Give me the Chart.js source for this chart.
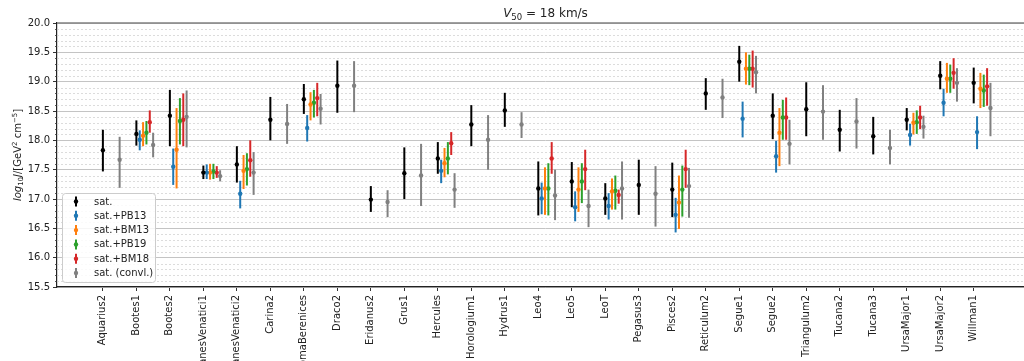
<!DOCTYPE html>
<html>
<head>
<meta charset="utf-8">
<title>J-factors, V50 = 18 km/s</title>
<script src="https://cdn.jsdelivr.net/npm/chart.js@4.4.1/dist/chart.umd.min.js"></script>
<style>
  html, body { margin: 0; padding: 0; background: #fff; overflow: hidden; }
  #wrap { position: relative; width: 1040px; height: 361px; }
</style>
</head>
<body>
<div id="wrap"><canvas id="jChart"></canvas></div>
<script>
// galaxies along the x axis
const galaxies = ['Aquarius2', 'Bootes1', 'Bootes2', 'CanesVenatici1', 'CanesVenatici2', 'Carina2',
    'ComaBerenices', 'Draco2', 'Eridanus2', 'Grus1', 'Hercules', 'Horologium1', 'Hydrus1', 'Leo4',
    'Leo5', 'LeoT', 'Pegasus3', 'Pisces2', 'Reticulum2', 'Segue1', 'Segue2', 'Triangulum2',
    'Tucana2', 'Tucana3', 'UrsaMajor1', 'UrsaMajor2', 'Willman1'];

// each entry: [median, lower, upper] of log10 J, null where the series has no value
const sat = [
    [17.83, 17.47, 18.18], [18.11, 17.91, 18.34], [18.42, 17.90, 18.86], [17.45, 17.34, 17.57],
    [17.59, 17.28, 17.90], [18.35, 18.00, 18.74], [18.70, 18.45, 18.96], [18.93, 18.47, 19.36],
    [16.99, 16.78, 17.22], [17.44, 17.00, 17.88], [17.69, 17.43, 17.97], [18.27, 17.90, 18.60],
    [18.51, 18.23, 18.81], [17.18, 16.72, 17.64], [17.30, 16.86, 17.63], [17.01, 16.73, 17.27],
    [17.24, 16.73, 17.67], [17.16, 16.69, 17.62], [18.80, 18.52, 19.06], [19.34, 19.00, 19.61],
    [18.42, 18.02, 18.80], [18.53, 18.07, 18.99], [18.18, 17.81, 18.52], [18.07, 17.76, 18.40],
    [18.35, 18.17, 18.55], [19.10, 18.87, 19.35], [18.98, 18.63, 19.24]
];
const satPB13 = [
    null, [18.01, 17.83, 18.17], [17.55, 17.24, 17.86], [17.45, 17.34, 17.59],
    [17.09, 16.84, 17.31], null, [18.21, 17.98, 18.43], null,
    null, null, [17.48, 17.27, 17.67], null,
    null, [17.01, 16.74, 17.28], [16.86, 16.62, 17.13], [16.88, 16.65, 17.10],
    null, [16.73, 16.43, 17.02], null, [18.37, 18.05, 18.66],
    [17.73, 17.45, 17.99], null, null, null,
    [18.09, 17.91, 18.28], [18.64, 18.41, 18.88], [18.14, 17.85, 18.41]
];
const satBM13 = [
    null, [18.08, 17.90, 18.31], [17.84, 17.18, 18.55], [17.45, 17.33, 17.60],
    [17.48, 17.17, 17.75], null, [18.61, 18.34, 18.82], null,
    null, null, [17.61, 17.37, 17.87], null,
    null, [17.18, 16.73, 17.54], [17.16, 16.78, 17.54], [17.13, 16.82, 17.35],
    null, [16.94, 16.49, 17.40], null, [19.22, 18.95, 19.50],
    [18.13, 17.56, 18.55], null, null, null,
    [18.30, 18.10, 18.47], [19.05, 18.81, 19.32], [18.88, 18.55, 19.15]
];
const satPB19 = [
    null, [18.13, 17.93, 18.33], [18.33, 17.93, 18.72], [17.47, 17.34, 17.60],
    [17.51, 17.23, 17.78], null, [18.64, 18.39, 18.86], null,
    null, null, [17.69, 17.42, 17.97], null,
    null, [17.18, 16.72, 17.61], [17.30, 16.93, 17.61], [17.14, 16.82, 17.40],
    null, [17.16, 16.70, 17.57], null, [19.22, 18.94, 19.46],
    [18.39, 18.01, 18.69], null, null, null,
    [18.31, 18.11, 18.51], [19.05, 18.81, 19.29], [18.85, 18.57, 19.12]
];
const satBM18 = [
    null, [18.31, 18.13, 18.51], [18.35, 17.90, 18.80], [17.45, 17.36, 17.56],
    [17.66, 17.38, 18.00], null, [18.72, 18.41, 18.98], null,
    null, null, [17.95, 17.75, 18.14], null,
    null, [17.69, 17.43, 17.97], [17.51, 17.15, 17.84], [17.07, 16.92, 17.16],
    null, [17.51, 17.19, 17.84], null, [19.22, 18.90, 19.53],
    [18.39, 18.01, 18.73], null, null, null,
    [18.39, 18.19, 18.59], [19.15, 18.88, 19.40], [18.92, 18.59, 19.23]
];
const satConvl = [
    [17.67, 17.19, 18.06], [17.92, 17.71, 18.13], [18.40, 17.88, 18.85], [17.39, 17.30, 17.49],
    [17.45, 17.07, 17.80], [18.28, 17.94, 18.62], [18.54, 18.27, 18.79], [18.93, 18.48, 19.35],
    [16.95, 16.69, 17.15], [17.40, 16.88, 17.94], [17.16, 16.85, 17.44], [18.01, 17.50, 18.43],
    [18.27, 18.04, 18.48], [17.06, 16.64, 17.50], [16.88, 16.52, 17.16], [17.18, 16.65, 17.64],
    [17.09, 16.53, 17.56], [17.22, 16.68, 17.53], [18.73, 18.38, 19.05], [19.16, 18.80, 19.44],
    [17.94, 17.59, 18.35], [18.49, 18.01, 18.94], [18.32, 17.86, 18.72], [17.87, 17.59, 18.18],
    [18.23, 18.03, 18.42], [18.98, 18.66, 19.23], [18.55, 18.07, 18.98]
];

const seriesLabels = ['sat.', 'sat.+PB13', 'sat.+BM13', 'sat.+PB19', 'sat.+BM18', 'sat. (convl.)'];
const seriesData = [sat, satPB13, satBM13, satPB19, satBM18, satConvl];
const seriesColors = ['#000000', '#1f77b4', '#ff7f0e', '#2ca02c', '#d62728', '#808080'];
const yTicks = [15.5, 16.0, 16.5, 17.0, 17.5, 18.0, 18.5, 19.0, 19.5, 20.0];

const FONT = "'DejaVu Sans', sans-serif";

// each series is shifted right by 0.1 of a category
const datasets = seriesData.map((s, k) => ({
    label: seriesLabels[k],
    data: galaxies.map((g, i) => s[i] ? { x: i + 0.1 * k, y: s[i][0], lo: s[i][1], hi: s[i][2] } : null)
        .filter(p => p),
    backgroundColor: seriesColors[k],
    borderColor: seriesColors[k],
    pointRadius: 2.2,
    pointBorderWidth: 0,
    pointHoverRadius: 2.2,
}));

// ── error bars + dashed minor grid, drawn through the chart scales ─────────
const errorBars = {
    id: 'errorBars',
    beforeDatasetsDraw(chart) {
        const { ctx, chartArea: a, scales: { x, y } } = chart;
        ctx.save();
        // minor grid every 0.1
        ctx.setLineDash([2, 2]);
        ctx.lineWidth = 0.8;
        ctx.strokeStyle = '#d4d4d4';
        for (let v = 155; v <= 200; v++) {
            if (v % 5 === 0) continue;
            const py = Math.round(y.getPixelForValue(v / 10)) + 0.5;
            ctx.beginPath(); ctx.moveTo(a.left, py); ctx.lineTo(a.right, py); ctx.stroke();
        }
        ctx.setLineDash([]);
        ctx.strokeStyle = '#333';
        ctx.lineWidth = 0.8;
        for (let v = 155; v <= 200; v++) {
            if (v % 5 === 0) continue;
            const py = Math.round(y.getPixelForValue(v / 10)) + 0.5;
            ctx.beginPath(); ctx.moveTo(a.left - 2, py); ctx.lineTo(a.left, py); ctx.stroke();
        }
        // error bars
        ctx.lineWidth = 2;
        chart.data.datasets.forEach(ds => {
            ctx.strokeStyle = ds.borderColor;
            ds.data.forEach(p => {
                const px = x.getPixelForValue(p.x);
                ctx.beginPath();
                ctx.moveTo(px, y.getPixelForValue(p.lo));
                ctx.lineTo(px, y.getPixelForValue(p.hi));
                ctx.stroke();
            });
        });
        ctx.restore();
    }
};

// ── title, y label, top spine and legend box ───────────────────────────────
function drawPieces(ctx, pieces, cx, cy) {
    let w = 0;
    pieces.forEach(p => { ctx.font = p.font; w += ctx.measureText(p.t).width; });
    let px = cx - w / 2;
    pieces.forEach(p => {
        ctx.font = p.font;
        ctx.fillText(p.t, px, cy + (p.dy || 0));
        px += ctx.measureText(p.t).width;
    });
}

const decorations = {
    id: 'decorations',
    afterDraw(chart) {
        const { ctx, chartArea: a } = chart;
        ctx.save();
        // top spine
        ctx.strokeStyle = '#808080';
        ctx.lineWidth = 1.5;
        ctx.beginPath(); ctx.moveTo(a.left, a.top); ctx.lineTo(a.right, a.top); ctx.stroke();

        ctx.fillStyle = '#222';
        ctx.textBaseline = 'alphabetic';
        ctx.textAlign = 'left';
        // title
        drawPieces(ctx, [
            { t: 'V', font: `oblique 12px ${FONT}` },
            { t: '50', font: `8.5px ${FONT}`, dy: 2.5 },
            { t: ' = 18 km/s', font: `12px ${FONT}` },
        ], (a.left + a.right) / 2, 17);

        // y axis label
        ctx.save();
        ctx.translate(21, (a.top + a.bottom) / 2);
        ctx.rotate(-Math.PI / 2);
        drawPieces(ctx, [
            { t: 'log', font: `oblique 10px ${FONT}` },
            { t: '10', font: `7px ${FONT}`, dy: 2 },
            { t: 'J', font: `oblique 10px ${FONT}` },
            { t: '/[GeV', font: `10px ${FONT}` },
            { t: '2', font: `7px ${FONT}`, dy: -4 },
            { t: ' cm', font: `10px ${FONT}` },
            { t: '\u22125', font: `7px ${FONT}`, dy: -4 },
            { t: ']', font: `10px ${FONT}` },
        ], 0, 0);
        ctx.restore();

        // legend
        const bx = 62, by = 193, bw = 93, bh = 89;
        ctx.fillStyle = 'rgba(255,255,255,0.85)';
        ctx.strokeStyle = '#cccccc';
        ctx.lineWidth = 1;
        ctx.beginPath();
        ctx.roundRect(bx + 0.5, by + 0.5, bw, bh, 3);
        ctx.fill(); ctx.stroke();
        ctx.font = `10px ${FONT}`;
        ctx.textBaseline = 'middle';
        seriesLabels.forEach((lab, k) => {
            const ry = by + 8.5 + k * 14.3;
            ctx.strokeStyle = seriesColors[k];
            ctx.fillStyle = seriesColors[k];
            ctx.lineWidth = 2;
            ctx.beginPath(); ctx.moveTo(76, ry - 5); ctx.lineTo(76, ry + 5); ctx.stroke();
            ctx.beginPath(); ctx.arc(76, ry, 2.2, 0, Math.PI * 2); ctx.fill();
            ctx.fillStyle = '#222';
            ctx.fillText(lab, 94, ry + 0.5);
        });
        ctx.restore();
    }
};

new Chart(document.getElementById('jChart'), {
    type: 'scatter',
    data: { datasets },
    options: {
        responsive: true, maintainAspectRatio: false,
        animation: false,
        devicePixelRatio: 1,
        layout: { padding: { top: 23, right: 6, left: 0, bottom: 0 } },
        plugins: { legend: { display: false }, tooltip: { enabled: false }, title: { display: false } },
        scales: {
            x: {
                type: 'linear',
                min: -1.37, max: 27.8,
                afterBuildTicks: s => { s.ticks = galaxies.map((g, i) => ({ value: i })); },
                afterFit: s => { s.height = 74; },
                ticks: {
                    autoSkip: false, minRotation: 90, maxRotation: 90, padding: 4,
                    color: '#222', font: { family: FONT, size: 10 },
                    callback: v => galaxies[Math.round(v)]
                },
                grid: { drawOnChartArea: false, tickLength: 4, tickColor: '#333', tickWidth: 1 },
                border: { color: '#222', width: 1.2 }
            },
            y: {
                min: 15.5, max: 20.0,
                afterBuildTicks: s => { s.ticks = yTicks.map(v => ({ value: v })); },
                afterFit: s => { s.width = 57; },
                ticks: {
                    padding: 3, color: '#222', font: { family: FONT, size: 10 },
                    callback: v => v.toFixed(1)
                },
                grid: { color: '#c4c4c4', lineWidth: 1, tickLength: 4, tickColor: '#333' },
                border: { color: '#222', width: 1.2 }
            }
        }
    },
    plugins: [errorBars, decorations]
});
</script>
</body>
</html>
